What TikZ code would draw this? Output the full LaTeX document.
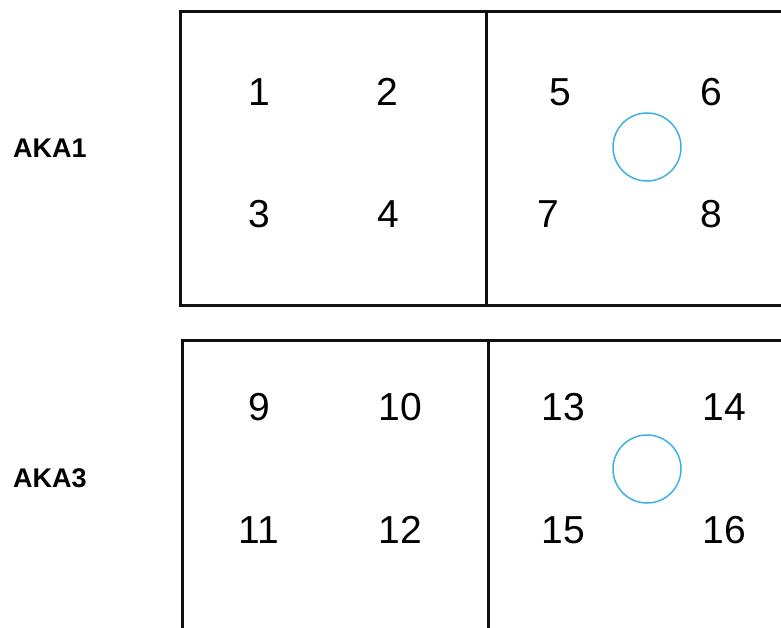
\documentclass[tikz,border=0pt]{standalone}
\usepackage{fontspec}
\setmainfont{Liberation Sans}
\usepackage{tikz}
\usetikzlibrary{positioning}
\definecolor{ringblue}{HTML}{3DB1E3}
\definecolor{framegray}{HTML}{111111}

\begin{document}
\begin{tikzpicture}[x=1pt,y=-1pt]
\tikzstyle{seat}=[inner sep=0pt,font=\fontsize{39}{39}\selectfont]
\tikzstyle{rowlabel}=[inner sep=0pt,font=\fontsize{27}{27}\selectfont\bfseries]
\tikzstyle{ring}=[draw=ringblue,line width=1.5pt,circle,minimum size=68pt,inner sep=0pt]
\tikzstyle{frame}=[draw=framegray,line width=3pt]
\useasboundingbox (0,0) rectangle (781,628);
\clip (0,0) rectangle (781,628);
% upper block
\draw[frame] (180,12) rectangle (800,305);
\draw[frame] (486,12)--(486,305);
\node[rowlabel] (aka1) at (50,148) {AKA1};
\node[seat] (s1) at (259,92) {1};
\node[seat] (s2) at (387,92) {2};
\node[seat] (s3) at (259,214) {3};
\node[seat] (s4) at (388,214) {4};
\node[seat] (s5) at (560,92) {5};
\node[seat] (s6) at (711,92) {6};
\node[seat] (s7) at (548,214) {7};
\node[seat] (s8) at (711,214) {8};
\node[ring] (ring1) at (647,147) {};
% lower block
\draw[frame] (182,340) rectangle (800,660);
\draw[frame] (488,340)--(488,660);
\node[rowlabel] (aka3) at (50,478) {AKA3};
\node[seat] (s9) at (259,407) {9};
\node[seat] (s10) at (400,407) {10};
\node[seat] (s11) at (259,530) {11};
\node[seat] (s12) at (400,530) {12};
\node[seat] (s13) at (563,407) {13};
\node[seat] (s14) at (724,407) {14};
\node[seat] (s15) at (563,530) {15};
\node[seat] (s16) at (724,530) {16};
\node[ring] (ring3) at (647,469) {};
\end{tikzpicture}
\end{document}
